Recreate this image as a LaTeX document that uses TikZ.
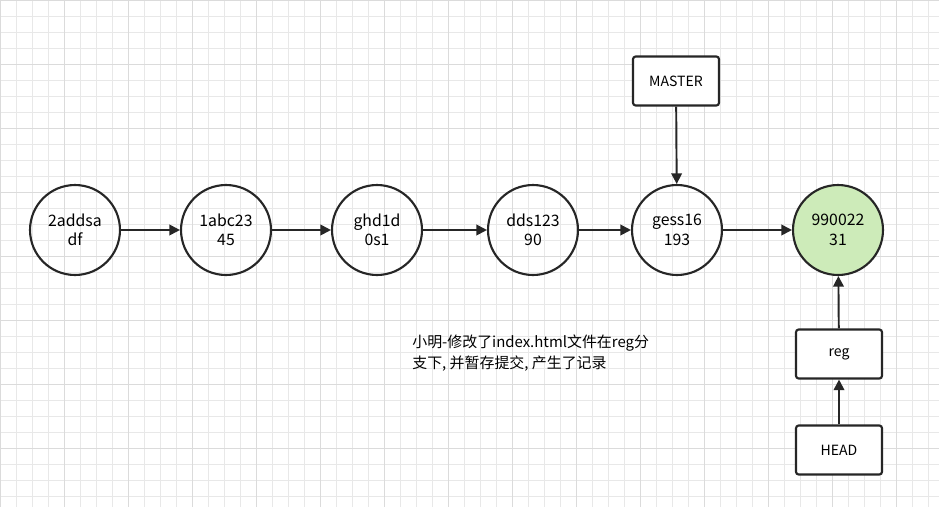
\documentclass[tikz,border=0pt]{standalone}
\usepackage{fontspec}
\setmainfont{Noto Sans CJK SC}
\usetikzlibrary{arrows.meta, positioning, calc}
\definecolor{commitgreen}{RGB}{205,235,185}
\definecolor{gridgray}{RGB}{232,232,232}
\tikzset{
  commit/.style={circle, draw=black!85, line width=1.2pt, minimum size=1.8cm, align=center, inner sep=0pt, font=\fontsize{9}{11}\selectfont},
  branch/.style={draw=black!85, line width=1.2pt, rounded corners=1.5pt, minimum width=1.72cm, minimum height=0.98cm, font=\fontsize{8}{10}\selectfont},
  link/.style={-{Triangle[length=6pt,width=6pt]}, line width=1.1pt, black!85}
}
\begin{document}
\begin{tikzpicture}[x=0.02cm,y=-0.02cm]
        \useasboundingbox (0,0) rectangle (939,507);
        \fill[white] (0,0) rectangle (939,507);
        % background grid
        \foreach \gx in {0,16,...,939} \draw[gridgray, line width=0.3pt] (\gx,0) -- (\gx,507);
        \foreach \gy in {0,16,...,507} \draw[gridgray, line width=0.3pt] (0,\gy) -- (939,\gy);
        \foreach \gx in {0,64,...,939} \draw[black!14, line width=0.4pt] (\gx,0) -- (\gx,507);
        \foreach \gy in {0,64,...,507} \draw[black!14, line width=0.4pt] (0,\gy) -- (939,\gy);
        % commits
        \node[commit] (c1) at (75,230) {2addsa\\df};
        \node[commit] (c2) at (226,230) {1abc23\\45};
        \node[commit] (c3) at (377,230) {ghd1d\\0s1};
        \node[commit] (c4) at (533,230) {dds123\\90};
        \node[commit] (c5) at (677,230) {gess16\\193};
        \node[commit, fill=commitgreen] (c6) at (838,230) {990022\\31};
        % branches
        \node[branch, fill=white] (master) at (676,81) {MASTER};
        \node[branch, fill=white] (reg) at (839,354) {reg};
        \node[branch, fill=white] (head) at (839,450) {HEAD};
        % links
        \draw[link] (c1) -- (c2);
        \draw[link] (c2) -- (c3);
        \draw[link] (c3) -- (c4);
        \draw[link] (c4) -- (c5);
        \draw[link] (c5) -- (c6);
        \draw[link] (master) -- (c5);
        \draw[link] (reg) -- (c6);
        \draw[link] (head) -- (reg);
        % note
        \node[anchor=north west, align=left, inner sep=0pt, font=\fontsize{8.5}{12.5}\selectfont] (note) at (412,334) {小明-修改了index.html文件在reg分\\支下, 并暂存提交, 产生了记录};
\end{tikzpicture}
\end{document}
